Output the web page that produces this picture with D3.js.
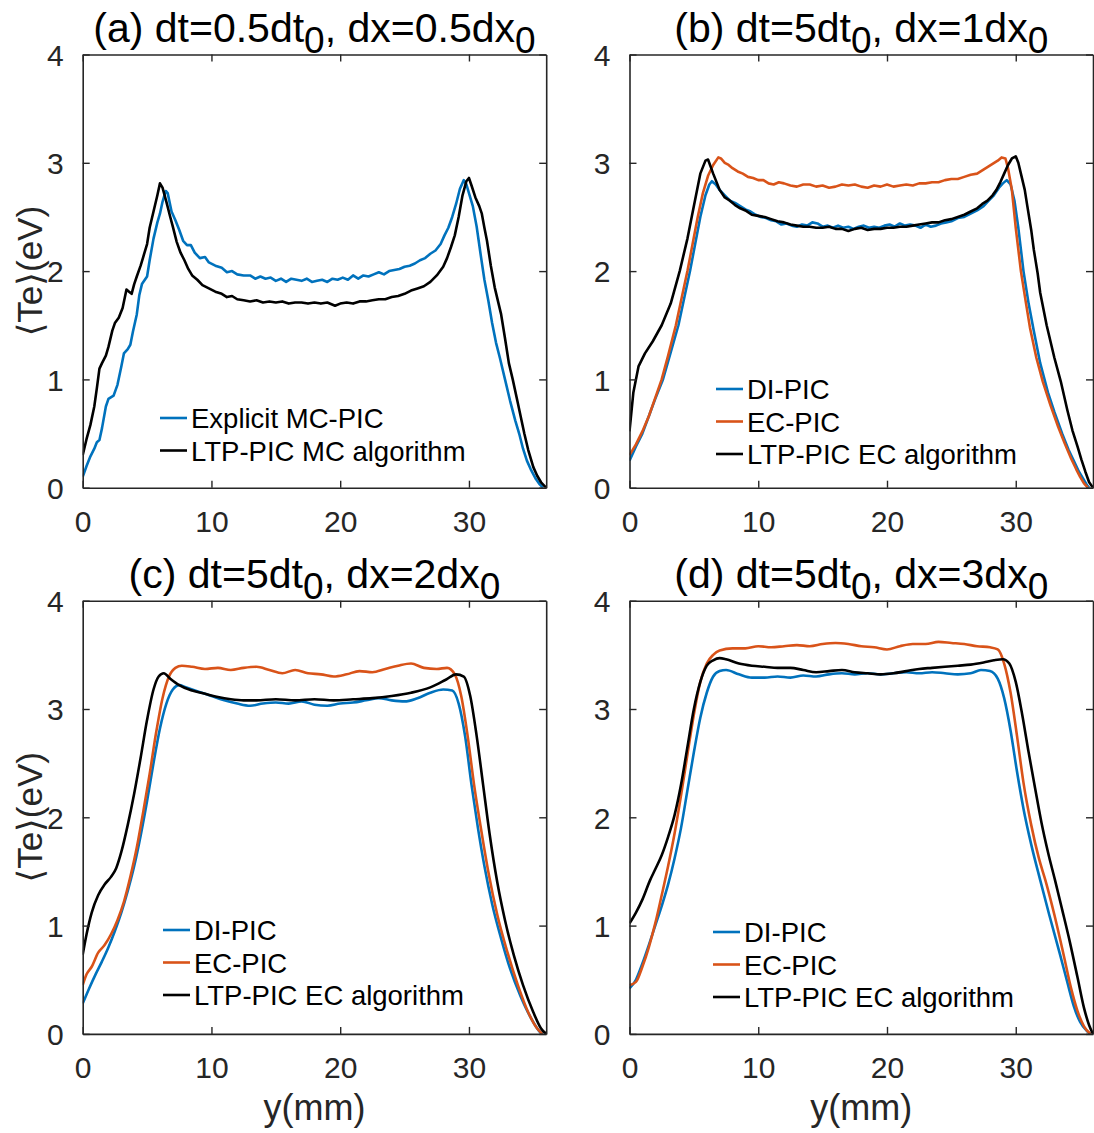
<!DOCTYPE html>
<html>
<head>
<meta charset="utf-8">
<script src="https://cdn.jsdelivr.net/npm/d3@7"></script>
<style>
  html, body { margin: 0; padding: 0; background: #fff; }
  svg { display: block; font-family: "Liberation Sans", Arial, "DejaVu Sans", sans-serif; }
</style>
</head>
<body>
<svg id="fig" width="1094" height="1133"></svg>
<script>
// Electron temperature profiles <Te>(y) for four time-step / grid-size settings.
const xTicks = [0, 10, 20, 30];
const yTicks = [0, 1, 2, 3, 4];
const xDomain = [0, 36];
const yDomain = [0, 4];

// (a) dt=0.5dt0, dx=0.5dx0
const a_explicitMC = [[0,0.1],[0.3,0.2],[0.6,0.29],[0.9,0.36],[1.1,0.42],[1.3,0.44],[1.5,0.55],[1.8,0.75],[2.0,0.82],[2.4,0.85],[2.7,0.95],[3.0,1.12],[3.2,1.24],[3.5,1.28],[3.7,1.32],[3.9,1.44],[4.2,1.6],[4.4,1.78],[4.6,1.88],[5.0,1.95],[5.2,2.1],[5.5,2.3],[5.8,2.45],[6.0,2.53],[6.2,2.64],[6.45,2.74],[6.6,2.72],[6.9,2.55],[7.2,2.47],[7.5,2.38],[7.8,2.28],[8.1,2.24],[8.4,2.24],[8.7,2.17],[9.1,2.12],[9.5,2.13],[9.8,2.08],[10.3,2.05],[10.8,2.03],[11.2,1.99],[11.6,2.0],[12.0,1.97],[12.5,1.96],[13.0,1.96],[13.4,1.93],[13.8,1.95],[14.2,1.93],[14.6,1.94],[15.0,1.91],[15.4,1.93],[15.8,1.9],[16.2,1.93],[16.6,1.92],[17.0,1.91],[17.4,1.93],[17.8,1.9],[18.2,1.91],[18.6,1.92],[19.0,1.9],[19.4,1.93],[19.8,1.92],[20.2,1.94],[20.6,1.92],[21.0,1.96],[21.4,1.93],[21.8,1.96],[22.2,1.95],[22.6,1.97],[23.0,1.99],[23.4,1.97],[23.8,2.0],[24.2,2.01],[24.6,2.02],[25.0,2.04],[25.4,2.05],[25.8,2.07],[26.2,2.1],[26.6,2.12],[27.0,2.16],[27.4,2.19],[27.8,2.25],[28.1,2.33],[28.4,2.4],[28.7,2.5],[29.0,2.62],[29.3,2.76],[29.6,2.84],[29.8,2.8],[30.0,2.72],[30.3,2.6],[30.6,2.41],[30.9,2.16],[31.2,1.92],[31.5,1.73],[31.8,1.52],[32.1,1.34],[32.4,1.2],[32.8,1.0],[33.2,0.8],[33.6,0.62],[33.9,0.5],[34.2,0.36],[34.5,0.25],[34.8,0.17],[35.2,0.08],[35.5,0.03],[35.75,0]];
const a_ltpMC = [[0,0.3],[0.3,0.45],[0.6,0.58],[0.9,0.75],[1.1,0.92],[1.3,1.1],[1.5,1.15],[1.8,1.22],[2.0,1.3],[2.3,1.45],[2.5,1.52],[2.8,1.57],[3.1,1.66],[3.4,1.83],[3.6,1.81],[3.8,1.79],[4.0,1.88],[4.2,1.95],[4.5,2.05],[4.7,2.13],[5.0,2.25],[5.2,2.4],[5.5,2.55],[5.8,2.7],[6.0,2.81],[6.2,2.77],[6.5,2.64],[6.8,2.5],[7.0,2.41],[7.3,2.27],[7.6,2.17],[7.9,2.1],[8.2,2.02],[8.5,1.96],[8.9,1.92],[9.3,1.87],[9.8,1.84],[10.3,1.81],[10.8,1.79],[11.2,1.76],[11.6,1.77],[12.0,1.74],[12.5,1.73],[13.0,1.72],[13.5,1.73],[14.0,1.71],[14.5,1.72],[15.0,1.71],[15.5,1.72],[16.0,1.7],[16.5,1.71],[17.0,1.71],[17.5,1.7],[18.0,1.71],[18.5,1.7],[19.0,1.71],[19.6,1.68],[20.0,1.7],[20.5,1.71],[21.0,1.7],[21.5,1.72],[22.0,1.72],[22.5,1.73],[23.0,1.74],[23.5,1.74],[24.0,1.76],[24.5,1.77],[25.0,1.79],[25.5,1.82],[26.0,1.84],[26.5,1.86],[27.0,1.9],[27.5,1.96],[28.0,2.04],[28.3,2.12],[28.6,2.22],[28.9,2.33],[29.2,2.5],[29.5,2.7],[29.8,2.83],[30.0,2.86],[30.2,2.79],[30.5,2.68],[30.8,2.6],[31.0,2.53],[31.2,2.4],[31.4,2.28],[31.7,2.05],[32.0,1.85],[32.3,1.7],[32.5,1.6],[32.8,1.38],[33.1,1.15],[33.4,1.0],[33.8,0.78],[34.3,0.5],[34.6,0.35],[35.0,0.19],[35.3,0.11],[35.6,0.05],[36,0]];

// (b) dt=5dt0, dx=1dx0
const b_di = [[0,0.25],[0.5,0.38],[1.0,0.5],[1.5,0.66],[2.0,0.82],[2.6,1.0],[3.2,1.25],[3.8,1.5],[4.3,1.78],[4.7,2.0],[5.1,2.25],[5.5,2.5],[5.9,2.7],[6.2,2.8],[6.4,2.83],[6.7,2.8],[7.0,2.75],[7.4,2.7],[7.8,2.65],[8.2,2.63],[8.6,2.6],[9.0,2.57],[9.4,2.55],[9.8,2.52],[10.2,2.5],[10.6,2.49],[11.0,2.47],[11.4,2.46],[11.8,2.43],[12.2,2.44],[12.6,2.42],[13.0,2.41],[13.4,2.43],[13.8,2.42],[14.2,2.45],[14.6,2.44],[15.0,2.41],[15.4,2.42],[15.8,2.4],[16.2,2.42],[16.6,2.4],[17.0,2.41],[17.4,2.39],[17.8,2.41],[18.2,2.42],[18.6,2.4],[19.0,2.41],[19.4,2.4],[19.8,2.42],[20.2,2.43],[20.6,2.41],[21.0,2.44],[21.4,2.42],[21.8,2.43],[22.2,2.42],[22.6,2.4],[23.0,2.43],[23.4,2.41],[23.8,2.42],[24.2,2.44],[24.6,2.45],[25.0,2.46],[25.5,2.49],[26.0,2.5],[26.5,2.53],[27.0,2.56],[27.5,2.6],[27.9,2.65],[28.3,2.7],[28.7,2.77],[29.0,2.81],[29.3,2.84],[29.6,2.8],[29.9,2.65],[30.2,2.4],[30.6,2.0],[31.0,1.7],[31.4,1.45],[31.9,1.15],[32.5,0.88],[33.0,0.7],[33.6,0.5],[34.1,0.35],[34.5,0.25],[34.9,0.15],[35.2,0.09],[35.5,0.03],[35.7,0]];
const b_ec = [[0,0.3],[0.5,0.4],[1.0,0.52],[1.5,0.66],[2.0,0.83],[2.5,1.0],[3.0,1.22],[3.6,1.5],[4.1,1.78],[4.5,2.0],[4.9,2.25],[5.3,2.5],[5.7,2.72],[6.1,2.88],[6.5,2.98],[6.9,3.05],[7.1,3.04],[7.4,3.0],[7.7,2.98],[8.0,2.95],[8.4,2.92],[8.8,2.9],[9.2,2.87],[9.6,2.86],[10.0,2.84],[10.4,2.84],[10.8,2.81],[11.2,2.8],[11.6,2.82],[12.0,2.81],[12.5,2.79],[13.0,2.78],[13.5,2.8],[14.0,2.8],[14.5,2.78],[15.0,2.79],[15.5,2.77],[16.0,2.78],[16.5,2.8],[17.0,2.79],[17.5,2.8],[18.0,2.78],[18.5,2.77],[19.0,2.79],[19.5,2.78],[20.0,2.8],[20.5,2.78],[21.0,2.79],[21.5,2.8],[22.0,2.79],[22.5,2.81],[23.0,2.81],[23.5,2.82],[24.0,2.82],[24.5,2.84],[25.0,2.85],[25.5,2.85],[26.0,2.87],[26.5,2.89],[27.0,2.9],[27.4,2.93],[27.8,2.96],[28.2,2.99],[28.6,3.02],[28.9,3.05],[29.2,3.04],[29.4,2.95],[29.7,2.75],[30.0,2.4],[30.4,2.0],[30.8,1.7],[31.1,1.48],[31.6,1.2],[32.1,0.98],[32.7,0.76],[33.3,0.56],[33.8,0.41],[34.3,0.27],[34.7,0.17],[35.0,0.1],[35.3,0.04],[35.6,0]];
const b_ltpEC = [[0,0.52],[0.3,0.88],[0.7,1.12],[1.2,1.24],[1.8,1.35],[2.5,1.5],[3.2,1.7],[3.9,2.0],[4.5,2.3],[5.0,2.6],[5.5,2.9],[5.9,3.02],[6.1,3.03],[6.5,2.9],[7.0,2.75],[7.4,2.68],[7.8,2.65],[8.2,2.61],[8.6,2.58],[9.0,2.56],[9.5,2.52],[10.0,2.51],[10.5,2.5],[11.0,2.48],[11.5,2.46],[12.0,2.45],[12.5,2.43],[13.0,2.42],[13.5,2.41],[14.0,2.41],[14.5,2.4],[15.0,2.4],[15.5,2.41],[16.0,2.39],[16.5,2.39],[17.0,2.37],[17.5,2.39],[18.0,2.4],[18.5,2.38],[19.0,2.39],[19.5,2.39],[20.0,2.4],[20.5,2.4],[21.0,2.41],[21.5,2.41],[22.0,2.42],[22.5,2.43],[23.0,2.44],[23.5,2.45],[24.0,2.45],[24.5,2.47],[25.0,2.48],[25.5,2.5],[26.0,2.52],[26.5,2.55],[27.0,2.58],[27.4,2.62],[27.8,2.65],[28.2,2.7],[28.5,2.75],[28.8,2.82],[29.1,2.9],[29.4,2.98],[29.7,3.04],[30.0,3.06],[30.2,3.0],[30.4,2.9],[30.7,2.75],[30.9,2.6],[31.2,2.38],[31.4,2.2],[31.7,1.98],[31.9,1.8],[32.4,1.5],[33.0,1.2],[33.5,0.98],[34.0,0.72],[34.4,0.53],[34.8,0.38],[35.1,0.26],[35.4,0.15],[35.7,0.05],[36,0]];

// (c) dt=5dt0, dx=2dx0
const c_di = [[0,0.28],[0.5,0.42],[1,0.55],[1.5,0.67],[2,0.8],[2.5,0.95],[3,1.12],[3.5,1.32],[4,1.55],[4.5,1.83],[5,2.15],[5.5,2.5],[6,2.82],[6.5,3.05],[7,3.18],[7.5,3.22],[8,3.2],[9,3.16],[10,3.12],[11,3.08],[12,3.05],[13,3.03],[14,3.05],[15,3.06],[16,3.05],[17,3.07],[18,3.04],[19,3.03],[20,3.05],[21,3.06],[22,3.08],[23,3.1],[24,3.08],[25,3.07],[26,3.1],[27,3.15],[28,3.18],[28.7,3.17],[29.2,3.05],[29.7,2.75],[30.2,2.3],[30.7,1.9],[31.2,1.55],[31.8,1.2],[32.5,0.88],[33.2,0.6],[34,0.35],[34.8,0.15],[35.5,0.02],[35.7,0]];
const c_ec = [[0,0.45],[0.3,0.55],[0.7,0.62],[1.2,0.75],[1.7,0.82],[2.2,0.92],[2.7,1.05],[3.2,1.22],[3.7,1.45],[4.2,1.72],[4.7,2.05],[5.2,2.4],[5.7,2.78],[6.2,3.1],[6.7,3.3],[7.2,3.38],[7.7,3.4],[8.5,3.39],[9.5,3.37],[10.5,3.38],[11.5,3.36],[12.5,3.38],[13.5,3.39],[14.5,3.36],[15.5,3.33],[16.5,3.36],[17.5,3.33],[18.5,3.32],[19.5,3.3],[20.5,3.32],[21.5,3.35],[22.5,3.34],[23.5,3.37],[24.5,3.4],[25.5,3.42],[26.5,3.38],[27.5,3.37],[28.3,3.38],[28.9,3.32],[29.4,3.12],[29.9,2.75],[30.4,2.3],[30.9,1.92],[31.5,1.5],[32.2,1.1],[33,0.75],[33.8,0.45],[34.6,0.2],[35.3,0.05],[35.7,0]];
const c_ltpEC = [[0,0.73],[0.3,0.92],[0.7,1.12],[1.2,1.28],[1.7,1.38],[2.2,1.45],[2.6,1.53],[3.0,1.68],[3.5,1.93],[4.0,2.22],[4.5,2.55],[5.0,2.9],[5.5,3.18],[5.9,3.3],[6.3,3.33],[6.8,3.28],[7.5,3.22],[8.5,3.17],[9.5,3.14],[10.5,3.11],[11.5,3.09],[12.5,3.08],[13.5,3.08],[15,3.09],[16.5,3.08],[18,3.09],[19.5,3.08],[21,3.09],[22.5,3.1],[24,3.12],[25.5,3.15],[27,3.2],[28.2,3.27],[29,3.32],[29.6,3.3],[30.1,3.12],[30.6,2.75],[31.1,2.3],[31.6,1.85],[32.2,1.4],[32.8,1.05],[33.5,0.72],[34.2,0.45],[35,0.2],[35.6,0.05],[36,0]];

// (d) dt=5dt0, dx=3dx0
const d_di = [[0,0.42],[0.5,0.5],[1,0.65],[1.5,0.82],[2,1.0],[2.5,1.18],[3,1.38],[3.5,1.62],[4,1.9],[4.5,2.25],[5,2.6],[5.5,2.92],[6,3.15],[6.5,3.3],[7,3.35],[7.5,3.36],[8.5,3.32],[9.5,3.29],[10.5,3.29],[11.5,3.3],[12.5,3.29],[13.5,3.31],[14.5,3.3],[15.5,3.32],[16.5,3.33],[17.5,3.32],[18.5,3.33],[19.5,3.32],[20.5,3.33],[21.5,3.34],[22.5,3.33],[23.5,3.34],[24.5,3.33],[25.5,3.32],[26.5,3.33],[27.3,3.36],[28,3.35],[28.6,3.28],[29.1,3.1],[29.6,2.8],[30.1,2.42],[30.6,2.08],[31.2,1.75],[31.9,1.42],[32.6,1.1],[33.4,0.75],[34.0,0.48],[34.5,0.26],[35.0,0.11],[35.5,0.03],[35.8,0]];
const d_ec = [[0,0.45],[0.5,0.48],[1,0.62],[1.5,0.8],[2,1.02],[2.5,1.28],[3,1.55],[3.5,1.85],[4,2.2],[4.5,2.58],[5,2.95],[5.5,3.25],[6,3.42],[6.5,3.5],[7,3.54],[8,3.56],[9,3.56],[10,3.58],[11,3.57],[12,3.58],[13,3.59],[14,3.58],[15,3.6],[16,3.61],[17,3.6],[18,3.58],[19,3.57],[20,3.55],[21,3.58],[22,3.6],[23,3.6],[24,3.62],[25,3.61],[26,3.6],[27,3.58],[28,3.57],[28.6,3.55],[29.1,3.42],[29.6,3.15],[30.1,2.75],[30.6,2.32],[31.2,1.93],[31.8,1.62],[32.3,1.42],[33,1.1],[33.7,0.74],[34.3,0.42],[34.8,0.21],[35.3,0.07],[35.8,0]];
const d_ltpEC = [[0,1.02],[0.5,1.12],[1,1.24],[1.6,1.42],[2,1.52],[2.5,1.65],[3,1.82],[3.5,2.02],[4,2.3],[4.5,2.65],[5,3.0],[5.5,3.25],[6,3.4],[6.5,3.45],[7,3.47],[7.5,3.46],[8.5,3.42],[9.5,3.4],[10.5,3.39],[11.5,3.38],[12.5,3.38],[13.5,3.36],[14.5,3.34],[15.5,3.35],[16.5,3.36],[17.5,3.34],[18.5,3.33],[19.5,3.32],[20.5,3.33],[21.5,3.35],[22.5,3.37],[23.5,3.38],[24.5,3.39],[25.5,3.4],[26.5,3.41],[27.5,3.43],[28.3,3.45],[29,3.46],[29.5,3.42],[30,3.25],[30.5,2.95],[31,2.6],[31.5,2.27],[32,1.95],[32.5,1.68],[33.05,1.42],[33.6,1.15],[34.2,0.85],[34.8,0.52],[35.3,0.24],[35.7,0.08],[36,0]];

const BLUE = "#0072BD", ORANGE = "#D95319", BLACK = "#000000", AXIS = "#262626";

const panels = [
  { key: "a", title: ["(a) dt=0.5dt", "0", ", dx=0.5dx", "0"], left: 82.7, top: 54.5, ylabel: true, xlabel: false,
    smooth: false, legend: { x: 160, y: 418 },
    series: [
      { name: "Explicit MC-PIC", data: a_explicitMC, color: BLUE },
      { name: "LTP-PIC MC algorithm", data: a_ltpMC, color: BLACK } ] },
  { key: "b", title: ["(b) dt=5dt", "0", ", dx=1dx", "0"], left: 629.5, top: 54.5, ylabel: false, xlabel: false,
    smooth: false, legend: { x: 716, y: 389 },
    series: [
      { name: "DI-PIC", data: b_di, color: BLUE },
      { name: "EC-PIC", data: b_ec, color: ORANGE },
      { name: "LTP-PIC EC algorithm", data: b_ltpEC, color: BLACK } ] },
  { key: "c", title: ["(c) dt=5dt", "0", ", dx=2dx", "0"], left: 82.7, top: 600.7, ylabel: true, xlabel: true,
    smooth: true, legend: { x: 163, y: 930 },
    series: [
      { name: "DI-PIC", data: c_di, color: BLUE },
      { name: "EC-PIC", data: c_ec, color: ORANGE },
      { name: "LTP-PIC EC algorithm", data: c_ltpEC, color: BLACK } ] },
  { key: "d", title: ["(d) dt=5dt", "0", ", dx=3dx", "0"], left: 629.5, top: 600.7, ylabel: false, xlabel: true,
    smooth: true, legend: { x: 713, y: 932 },
    series: [
      { name: "DI-PIC", data: d_di, color: BLUE },
      { name: "EC-PIC", data: d_ec, color: ORANGE },
      { name: "LTP-PIC EC algorithm", data: d_ltpEC, color: BLACK } ] }
];

const W = 463.5, H = 433.2, TICK = 7;
const svg = d3.select("#fig");

panels.forEach(p => {
  const g = svg.append("g").attr("transform", `translate(${p.left},${p.top})`);
  const x = d3.scaleLinear().domain(xDomain).range([0, W]);
  const y = d3.scaleLinear().domain(yDomain).range([H, 0]);

  // clip curves to the axes box
  const clipId = "clip-" + p.key;
  g.append("clipPath").attr("id", clipId).append("rect")
    .attr("x", 0).attr("y", 0).attr("width", W).attr("height", H);

  const line = d3.line()
    .x(d => x(d[0])).y(d => y(d[1]))
    .curve(p.smooth ? d3.curveMonotoneX : d3.curveLinear);

  // draw the black reference last so it sits on top
  const order = [...p.series].sort((s1, s2) => (s1.color === BLACK) - (s2.color === BLACK));
  g.append("g").attr("clip-path", `url(#${clipId})`)
    .selectAll("path").data(order).join("path")
    .attr("d", s => line(s.data))
    .attr("fill", "none")
    .attr("stroke", s => s.color)
    .attr("stroke-width", 2.6)
    .attr("stroke-linejoin", "round");

  // axes: ticks inside, on all four sides
  const fmt = d3.format("d");
  const bottom = g.append("g").attr("transform", `translate(0,${H})`)
    .call(d3.axisBottom(x).tickValues(xTicks).tickFormat(fmt).tickSizeInner(-TICK).tickSizeOuter(0).tickPadding(TICK + 16));
  const topAx = g.append("g")
    .call(d3.axisTop(x).tickValues(xTicks).tickFormat("").tickSizeInner(-TICK).tickSizeOuter(0));
  const leftAx = g.append("g")
    .call(d3.axisLeft(y).tickValues(yTicks).tickFormat(fmt).tickSizeInner(-TICK).tickSizeOuter(0).tickPadding(TICK + 12));
  const rightAx = g.append("g").attr("transform", `translate(${W},0)`)
    .call(d3.axisRight(y).tickValues(yTicks).tickFormat("").tickSizeInner(-TICK).tickSizeOuter(0));

  [bottom, topAx, leftAx, rightAx].forEach(ax => {
    ax.select(".domain").attr("stroke", AXIS).attr("stroke-width", 1.6);
    ax.selectAll(".tick line").attr("stroke", AXIS).attr("stroke-width", 1.4);
    ax.selectAll(".tick text").attr("fill", AXIS)
      .style("font-size", "30px").style("font-family", "'Liberation Sans', Arial, sans-serif");
  });
  bottom.selectAll(".tick text").attr("dy", "0.71em");
  leftAx.selectAll(".tick text").attr("dy", "0.36em");

  // title with subscripted zeros
  const t = g.append("text").attr("x", W / 2).attr("y", -12.5)
    .attr("text-anchor", "middle").attr("fill", "#000").style("font-size", "41px");
  t.append("tspan").text(p.title[0]);
  t.append("tspan").attr("dy", 11).style("font-size", "37px").text(p.title[1]);
  t.append("tspan").attr("dy", -11).text(p.title[2]);
  t.append("tspan").attr("dy", 11).style("font-size", "37px").text(p.title[3]);

  if (p.ylabel) {
    g.append("text")
      .attr("transform", `translate(${-41},${H / 2}) rotate(-90)`)
      .attr("text-anchor", "middle").attr("fill", AXIS)
      .style("font-size", "35px")
      .style("font-family", "'Liberation Sans', 'DejaVu Sans', sans-serif")
      .text("\u27E8Te\u27E9(eV)");
  }
  if (p.xlabel) {
    g.append("text").attr("x", W / 2).attr("y", H + 86)
      .attr("text-anchor", "middle").attr("fill", AXIS)
      .style("font-size", "36px").text("y(mm)");
  }

  // legend
  const lg = svg.append("g");
  p.series.forEach((s, i) => {
    const ly = p.legend.y + i * 32.5;
    lg.append("line")
      .attr("x1", p.legend.x).attr("x2", p.legend.x + 27)
      .attr("y1", ly).attr("y2", ly)
      .attr("stroke", s.color).attr("stroke-width", 2.6);
    lg.append("text")
      .attr("x", p.legend.x + 31).attr("y", ly + 10)
      .attr("fill", "#000").style("font-size", "27.5px")
      .text(s.name);
  });
});
</script>
</body>
</html>
